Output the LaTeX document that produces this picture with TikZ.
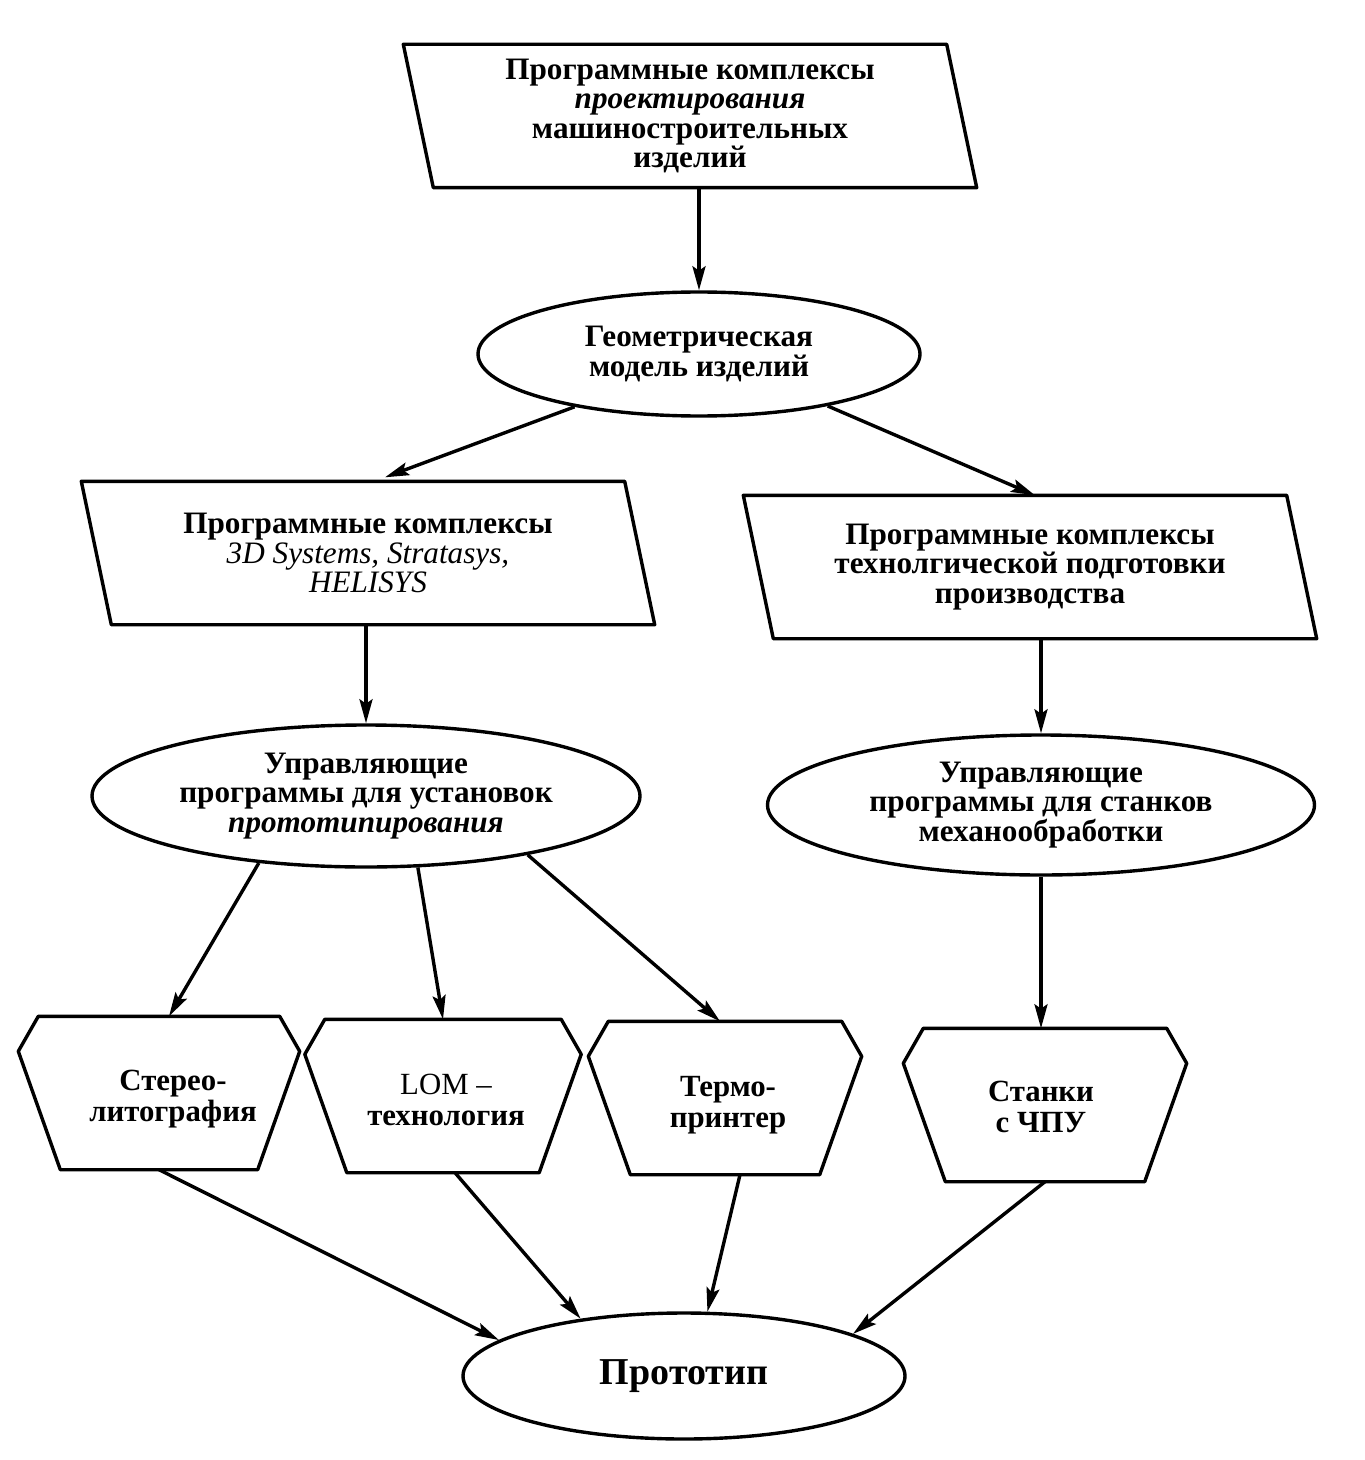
\documentclass[tikz,border=0pt]{standalone}
\usepackage{fontspec}
\setmainfont{Liberation Serif}
\usetikzlibrary{shapes.geometric,arrows.meta,calc}
\newcommand\slantshape[1]{%
  \draw ($(#1.north west)+(-15,0)$) -- ($(#1.north east)+(-15,0)$) --
        ($(#1.south east)+(15,0)$) -- ($(#1.south west)+(15,0)$) -- cycle;}
\newcommand\hexshape[1]{%
  \draw ($(#1.north west)+(20,0)$) -- ($(#1.north east)+(-20,0)$) --
        ($(#1.north east)+(0,35)$) -- ($(#1.south east)+(-42,0)$) --
        ($(#1.south west)+(42,0)$) -- ($(#1.north west)+(0,35)$) -- cycle;}
\begin{document}
\begin{tikzpicture}[x=0.5pt,y=-0.5pt,
  line width=1.7pt, line join=round,
  txt/.style={font=\fontsize{15.6}{14.8}\selectfont\bfseries, align=center, inner sep=0pt},
  htxt/.style={font=\fontsize{15.4}{15.8}\selectfont\bfseries, align=center, inner sep=0pt},
  slbox/.style={txt, minimum width=270pt, minimum height=70pt},
  ell/.style={txt, draw, ellipse},
  hexbox/.style={minimum width=#1, minimum height=75pt, inner sep=0pt},
  arr/.style={-{Stealth[length=12pt,width=6.5pt,inset=2.2pt]}}]
\useasboundingbox[fill=white] (0,0) rectangle (1364,1460);

% parallelogram boxes
\node[slbox] (b1) at (690,116) {Программные комплексы\\ \textit{проектирования}\\ машиностроительных\\ изделий};
\slantshape{b1}
\node[slbox] (b2) at (368,553) {Программные комплексы\\ {\mdseries\itshape 3D Systems, Stratasys,}\\ {\mdseries\itshape HELISYS}};
\slantshape{b2}
\node[slbox] (b3) at (1030,567) {Программные комплексы\\ технолгической подготовки\\ производства};
\slantshape{b3}

% ellipses
\node[ell, minimum width=221pt, minimum height=62pt] (e1) at (699,354) {Геометрическая\\ модель изделий};
\node[ell, minimum width=274pt, minimum height=71pt] (e2) at (366,796) {Управляющие\\ программы для установок\\ \textit{прототипирования}};
\node[ell, minimum width=273.5pt, minimum height=70pt] (e3) at (1041,805) {Управляющие\\ программы для станков\\ механообработки};
\node[ell, minimum width=221pt, minimum height=63pt, font=\fontsize{19}{20}\selectfont\bfseries] (e4) at (684,1376) {Прототип};

% hexagons
\node[hexbox=139pt] (h1) at (159,1093) {};
\hexshape{h1}
\node[htxt] (h1t) at (173,1099) {Стерео-\\ литография};
\node[hexbox=136.5pt] (h2) at (443,1096) {};
\hexshape{h2}
\node[htxt] (h2t) at (446,1100) {{\mdseries LOM –}\\ технология};
\node[hexbox=135pt] (h3) at (725,1098) {};
\hexshape{h3}
\node[htxt] (h3t) at (728,1105) {Термо-\\ принтер};
\node[hexbox=140pt] (h4) at (1045,1105) {};
\hexshape{h4}
\node[htxt] (h4t) at (1041,1107) {Станки\\ с ЧПУ};

% connectors
\draw[arr] (e1.north |- b1.south) -- (e1.north);
\draw[arr] (e1.203.6) -- ($(b2.north)+(17,-4)$);
\draw[arr] (e1.338) -- ($(b3.north)+(5,0)$);
\draw[arr] (e2.north |- b2.south) -- (e2.north);
\draw[arr] (e3.north |- b3.south) -- (e3.north);
\draw[arr] (e2.212.8) -- ($(h1.north)+(10,0)$);
\draw[arr] (e2.306.6) -- (h2.north);
\draw[arr] (e2.340.3) -- ($(h3.north)+(-5,0)$);
\draw[arr] (e3.south) -- (e3.south |- h4.north);
\draw[arr] (h1.south) -- (e4.169);
\draw[arr] ($(h2.south)+(12,0)$) -- (e4.151);
\draw[arr] ($(h3.south)+(15,0)$) -- (e4.70);
\draw[arr] (h4.south) -- (e4.14.6);
\end{tikzpicture}
\end{document}
